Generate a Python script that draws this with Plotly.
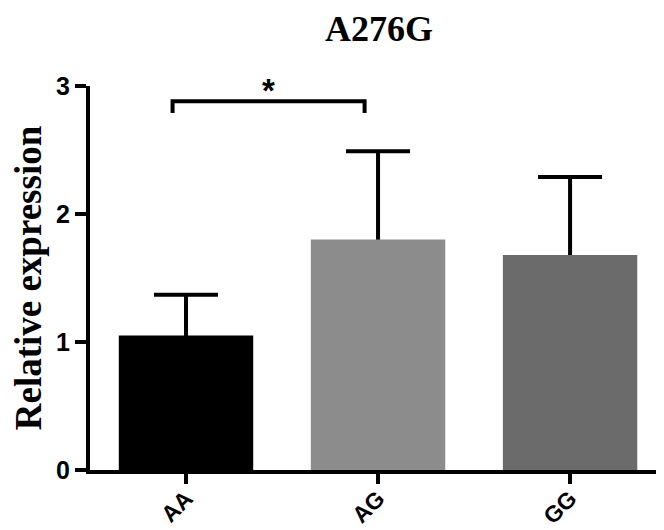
import plotly.graph_objects as go

categories = ["AA", "AG", "GG"]
means = [1.05, 1.80, 1.68]
errors = [0.32, 0.69, 0.61]
bar_colors = ["#000000", "#8c8c8c", "#6b6b6b"]
y_ticks = [0, 1, 2, 3]
sig_pair = ("AA", "AG")
sig_label = "*"

fig = go.Figure()

# error bars (drawn first so the coloured bars cover their lower half)
fig.add_trace(go.Bar(
    x=categories, y=means, width=0.7,
    marker=dict(color="rgba(0,0,0,0)", line=dict(width=0)),
    error_y=dict(type="data", array=errors, symmetric=True,
                 color="#000000", thickness=4, width=32),
    showlegend=False, hoverinfo="skip",
))
fig.add_trace(go.Bar(
    x=categories, y=means, width=0.7,
    marker=dict(color=bar_colors, line=dict(width=0)),
    showlegend=False,
))

# significance bracket
i0, i1 = categories.index(sig_pair[0]), categories.index(sig_pair[1])
top = max(means[i] + errors[i] for i in (i0, i1))
yb = top + 0.39
x0, x1 = i0 - 0.07, i1 - 0.07
fig.add_shape(type="path",
              path=f"M {x0},{yb-0.09} L {x0},{yb} L {x1},{yb} L {x1},{yb-0.09}",
              xref="x", yref="y", line=dict(color="#000000", width=4))
fig.add_annotation(x=(x0 + x1) / 2, y=yb, text="<b>" + sig_label + "</b>", showarrow=False,
                   yanchor="bottom", yshift=-10,
                   font=dict(family="Liberation Sans, Arial", size=33, color="#000000"))

fig.update_layout(
    width=664, height=530,
    margin=dict(l=82, r=4, t=78, b=68),
    paper_bgcolor="white", plot_bgcolor="white",
    barmode="overlay",
    title=dict(text="<b>A276G</b>", x=0.5, xref="paper", xanchor="center",
               y=0.962, yref="container", yanchor="middle",
               font=dict(family="Liberation Serif, Times New Roman", size=36, color="#000000")),
    xaxis=dict(
        range=[-0.5, 2.51], showgrid=False, zeroline=False,
        showline=True, linecolor="#000000", linewidth=4,
        ticks="outside", ticklen=10, tickwidth=4, tickcolor="#000000",
        tickangle=-45, ticklabelstandoff=-8,
        tickfont=dict(family="Liberation Sans, Arial", size=23, color="#000000", weight="bold"),
    ),
    yaxis=dict(
        range=[0, 3], showgrid=False, zeroline=False,
        showline=True, linecolor="#000000", linewidth=4,
        ticks="outside", ticklen=11, tickwidth=4, tickcolor="#000000",
        tickvals=y_ticks, ticktext=[str(v) for v in y_ticks],
        tickfont=dict(family="Liberation Sans, Arial", size=25, color="#000000", weight="bold"),
        title=dict(text="<b>Relative expression</b>", standoff=10,
                   font=dict(family="Liberation Serif, Times New Roman", size=37, color="#000000")),
    ),
)

fig.write_html("out.html")
